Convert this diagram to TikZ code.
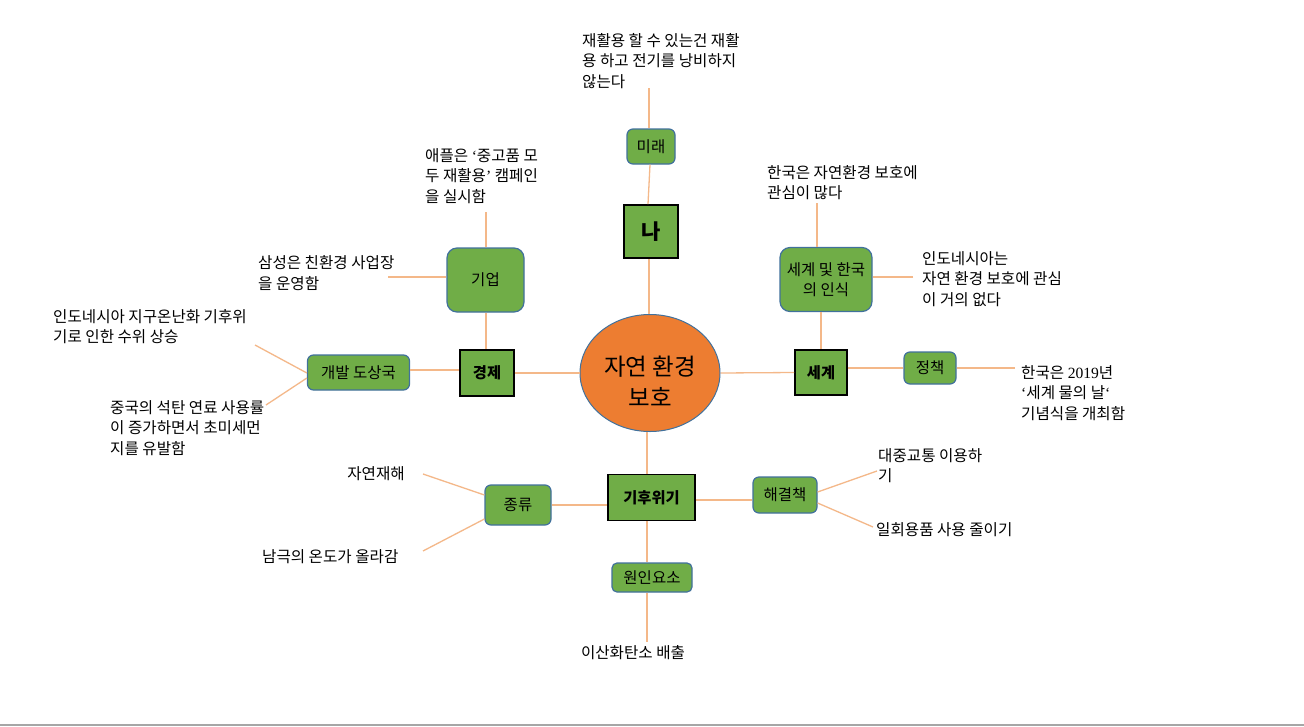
\documentclass[tikz,border=0pt]{standalone}
\usepackage{fontspec}
\setmainfont{Noto Sans CJK KR}
\newfontfamily\tnr{Liberation Serif}
\usetikzlibrary{shapes.geometric}
\definecolor{gr}{HTML}{70AD47}
\definecolor{bl}{HTML}{41719C}
\definecolor{og}{HTML}{ED7D31}
\definecolor{ln}{HTML}{F4B889}
\definecolor{rule}{HTML}{A6A6A6}
\begin{document}
\begin{tikzpicture}[x=1pt,y=-1pt,
 sub/.style={draw=bl, line width=1.2pt, fill=gr, rounded corners=6pt, inner sep=0pt, align=center, font=\fontsize{15.5}{20}\selectfont},
 main/.style={draw=black, line width=1.6pt, fill=gr, inner sep=0pt, font=\fontsize{15.3}{17}\selectfont\bfseries},
 txt/.style={inner sep=0pt, anchor=north west, align=left, font=\fontsize{15.6}{20.5}\selectfont},
 stxt/.style={inner sep=0pt, font=\fontsize{15.6}{20}\selectfont},
 con/.style={draw=ln, line width=1.3pt}]
\useasboundingbox (0,0) rectangle (1304,726);
\fill[white] (0,0) rectangle (1304,726);
\draw[rule, line width=2pt] (0,725) -- (1304,725);

% central
\node[ellipse, draw=bl, line width=1pt, fill=og, minimum width=140pt, minimum height=117pt, inner sep=0pt] (root) at (650,373) {};
\node[inner sep=0pt, align=center, font=\fontsize{23.5}{31}\selectfont] (rootlabel) at (650,381) {자연 환경\\보호};

% main boxes
\node[main, minimum width=54pt, minimum height=53pt, font=\fontsize{21}{22}\selectfont\bfseries] (na) at (651,231.5) {나};
\node[main, minimum width=54pt, minimum height=46pt] (gyeongje) at (487,373) {경제};
\node[main, minimum width=52pt, minimum height=45pt] (segye) at (821,372.5) {세계};
\node[main, minimum width=87pt, minimum height=46pt] (gihu) at (651.5,497.5) {기후위기};

% sub boxes
\node[sub, minimum width=48pt, minimum height=35pt] (mirae) at (651,146.5) {미래};
\node[sub, minimum width=77pt, minimum height=64pt, rounded corners=10pt] (gieop) at (485.5,280) {기업};
\node[sub, minimum width=102pt, minimum height=35pt] (gaebal) at (358.5,372.5) {개발 도상국};
\node[sub, minimum width=92pt, minimum height=64pt, rounded corners=10pt] (insik) at (826,279.5) {세계 및 한국\\의 인식};
\node[sub, minimum width=52pt, minimum height=32pt] (jeongchaek) at (930,368) {정책};
\node[sub, minimum width=66pt, minimum height=40pt] (jongnyu) at (518,505) {종류};
\node[sub, minimum width=80pt, minimum height=29pt, rounded corners=5pt] (wonin) at (652,577.5) {원인요소};
\node[sub, minimum width=64pt, minimum height=36pt] (haegyeol) at (785,495) {해결책};

% text nodes
\node[txt] (t_mirae) at (582,33) {재활용 할 수 있는건 재활\\용 하고 전기를 낭비하지\\않는다};
\node[txt] (t_apple) at (425,148) {애플은 {\tnr ‘}중고품 모\\두 재활용{\tnr ’} 캠페인\\을 실시함};
\node[txt] (t_samsung) at (258,255.5) {삼성은 친환경 사업장\\을 운영함};
\node[txt] (t_indo1) at (53,309) {인도네시아 지구온난화 기후위\\기로 인한 수위 상승};
\node[txt] (t_china) at (110,400) {중국의 석탄 연료 사용률\\이 증가하면서 초미세먼\\지를 유발함};
\node[txt] (t_korea) at (767,165) {한국은 자연환경 보호에\\관심이 많다};
\node[txt] (t_indo2) at (922,251) {인도네시아는\\자연 환경 보호에 관심\\이 거의 없다};
\node[txt] (t_policy) at (1021,365) {한국은 {\tnr 2019}년\\{\tnr ‘}세계 물의 날{\tnr ‘}\\기념식을 개최함};
\node[txt] (t_bus) at (878,448) {대중교통 이용하\\기};
\node[stxt, anchor=west] (t_cup) at (876,530) {일회용품 사용 줄이기};
\node[stxt, anchor=east] (t_disaster) at (405,474) {자연재해};
\node[stxt, anchor=west] (t_pole) at (262,557) {남극의 온도가 올라감};
\node[stxt] (t_co2) at (633,653) {이산화탄소 배출};

% free ends
\coordinate (e_mirae) at (649,88);
\coordinate (e_apple) at (486,212);
\coordinate (e_samsung) at (388,277);
\coordinate (e_indo1) at (255,345);
\coordinate (e_china) at (266,405);
\coordinate (e_korea) at (817,203);
\coordinate (e_indo2) at (913,277);
\coordinate (e_policy) at (1015,368);
\coordinate (e_disaster) at (423,474);
\coordinate (e_pole) at (423,551);
\coordinate (e_co2) at (647,642);
\coordinate (e_bus) at (877,471);
\coordinate (e_cup) at (873,527);

% connectors (yshift positive = upwards in the image)
\draw[con] (e_mirae) -- (e_mirae |- mirae.north);
\draw[con] ([xshift=-1pt]mirae.south) -- ([xshift=-3pt]na.north);
\draw[con] ([xshift=-2pt]na.south) -- ([xshift=-2pt]na.south |- root.north);
\draw[con] (e_apple) -- (e_apple |- gieop.north);
\draw[con] (e_samsung) -- (e_samsung -| gieop.west);
\draw[con] (gieop.south -| e_apple) -- (gyeongje.north -| e_apple);
\draw[con] (gyeongje.east) -- (root.west);
\draw[con] ([yshift=2.5pt]gaebal.east) -- ([yshift=3pt]gyeongje.west);
\draw[con] ([yshift=-0.5pt]gaebal.west) -- (e_indo1);
\draw[con] ([yshift=-5.5pt]gaebal.west) -- (e_china);
\draw[con] (e_korea) -- (e_korea |- insik.north);
\draw[con] (e_indo2) -- (e_indo2 -| insik.east);
\draw[con] (insik.south -| segye.north) -- (segye.north);
\draw[con] (root.east) -- (segye.west);
\draw[con] ([yshift=4.5pt]segye.east) -- (jeongchaek.west);
\draw[con] (jeongchaek.east) -- (e_policy);
\draw[con] (root.south -| e_co2) -- (gihu.north -| e_co2);
\draw[con] (jongnyu.east) -- (jongnyu.east -| gihu.west);
\draw[con] ([yshift=10pt]jongnyu.west) -- (e_disaster);
\draw[con] ([yshift=-14pt]jongnyu.west) -- (e_pole);
\draw[con] (gihu.south -| e_co2) -- (wonin.north -| e_co2);
\draw[con] (wonin.south -| e_co2) -- (e_co2);
\draw[con] ([yshift=-2.5pt]gihu.east) -- ([yshift=-5pt]haegyeol.west);
\draw[con] ([yshift=3pt]haegyeol.east) -- (e_bus);
\draw[con] ([yshift=-8pt]haegyeol.east) -- (e_cup);
\end{tikzpicture}
\end{document}
